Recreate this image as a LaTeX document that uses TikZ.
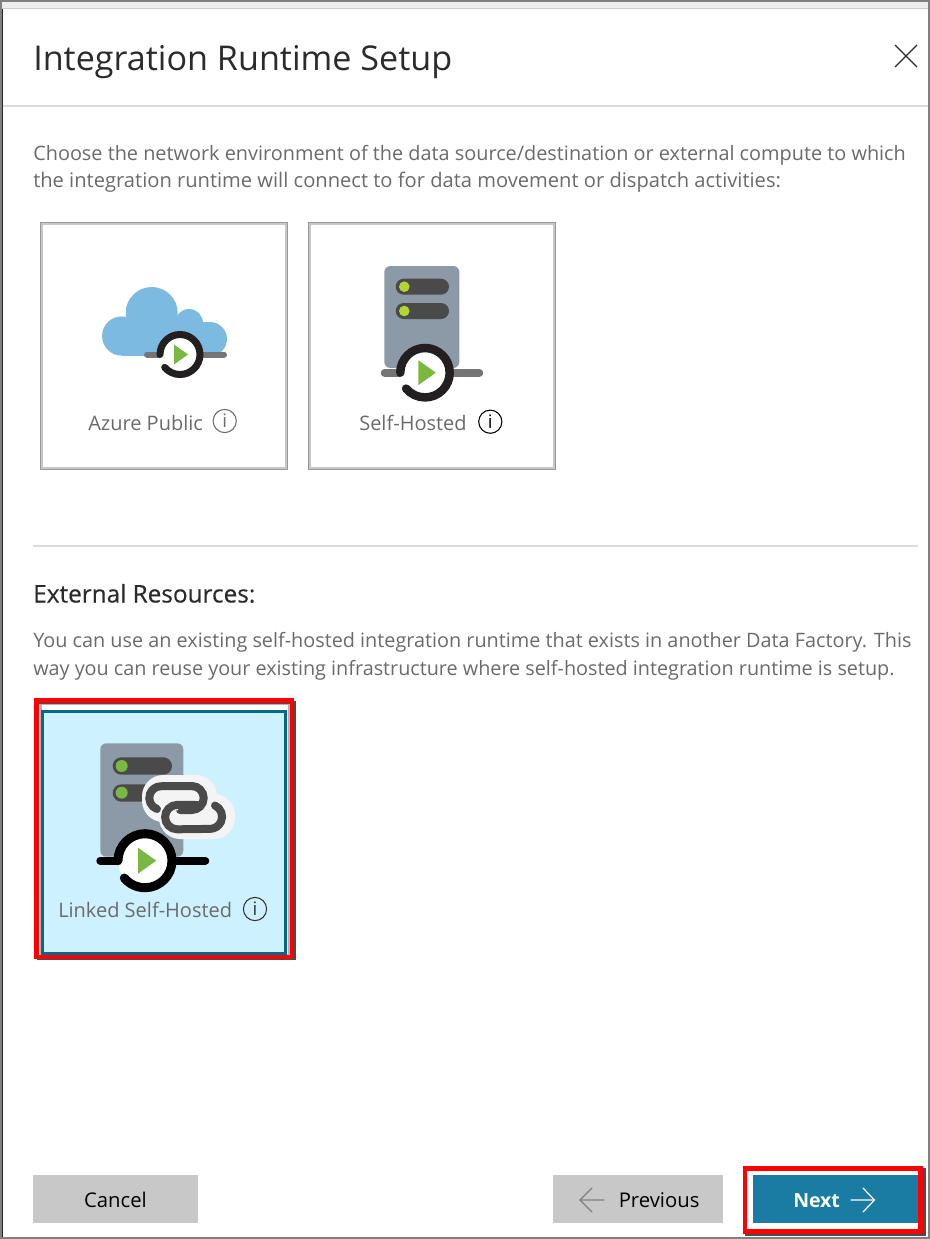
\documentclass[tikz,border=0pt]{standalone}
\usepackage{fontspec}
\setmainfont{Open Sans}
\newfontfamily\semifont[FakeBold=0.35]{Open Sans}
\usetikzlibrary{arrows.meta}
\definecolor{ring}{HTML}{231F20}
\definecolor{playg}{HTML}{7AB842}
\definecolor{srv}{HTML}{8C9AA8}
\definecolor{slot}{HTML}{4A4A4A}
\definecolor{lime}{HTML}{B4D334}
\definecolor{barg}{HTML}{757575}
\definecolor{txtg}{HTML}{6B6B6B}
\definecolor{txtd}{HTML}{2B2B2B}
\definecolor{btng}{HTML}{C8C8C8}
\definecolor{teal}{HTML}{1B7CA3}
\definecolor{tealb}{HTML}{00698C}
\definecolor{sel}{HTML}{CDF1FF}
\definecolor{rulec}{HTML}{DCDCDC}
\definecolor{halo}{HTML}{F4F4F4}
\definecolor{cloudc}{HTML}{7CBAE2}
\newcommand{\fs}[1]{\fontsize{#1}{#1}\selectfont}
\tikzset{
  x=0.75pt,y=-0.75pt,
  lbl/.style={inner sep=0pt,anchor=base west,text=txtg,font=\fs{15}},
  para/.style={inner sep=0pt,anchor=base west,text=txtg,font=\fs{14.87}},
  redbox/.style={draw=red,line width=3.4pt},
  shadowbox/.style={draw=black!70,line width=1.5pt},
  infoc/.style={circle,draw,inner sep=0pt,minimum size=17.4pt,line width=0.8pt,font=\fs{14}},
  btn/.style={inner sep=0pt,anchor=base west,font=\fs{15.2}},
  linkst/.style={draw=slot,line width=6pt,line cap=round},
}
\newcommand{\runring}[7]{% x y radius stroke triback trihalf colour
  \fill[white] (#1,#2) circle[radius=#3];
  \draw[draw=#7,line cap=round,line width=#4*0.75pt] ({#1-#3},#2) arc[start angle=180,end angle=-140,radius=#3*0.75pt];
  \fill[playg] ({#1-#5},{#2-#6}) -- ({#1-#5},{#2+#6}) -- ({#1-#5+#6*1.4},#2) -- cycle;
}
\newcommand{\cardframe}[4]{%
  \draw[black!40,line width=0.75pt,fill=white] (#1,#2) rectangle (#3,#4);
  \draw[black!22,line width=1.4pt] ({#1+1.5},{#2+1.5}) rectangle ({#3-1.5},{#4-1.5});
}
\begin{document}
\begin{tikzpicture}
\useasboundingbox (0,0) rectangle (930,1239);
\fill[white] (0,0) rectangle (930,1239);
% window frame
\fill[black!7] (0,0) rectangle (930,8);
\fill[black!50] (0,0) rectangle (930,2);
\fill[black!20] (0,7.5) rectangle (930,9);
\fill[black!50] (0,0) rectangle (2,1239);
\fill[black!85] (2,9) rectangle (3,1239);
\fill[black!50] (928,0) rectangle (930,1239);
\fill[black!50] (0,1236.5) rectangle (930,1239);
% header
\node[inner sep=0pt,anchor=base west,text=txtd,font=\fs{25.6}] (title) at (33,70.5) {Integration Runtime Setup};
\coordinate (xa) at (895,45); \coordinate (xb) at (917,67);
\coordinate (xc) at (917,45); \coordinate (xd) at (895,67);
\draw[txtd,line width=0.9pt] (xa) -- (xb) (xc) -- (xd);
\fill[rulec] (3,105) rectangle (928,107);
% intro
\node[para,font=\fs{14.9}] (p1) at (33,160) {Choose the network environment of the data source/destination or external compute to which};
\node[para,font=\fs{15.1}] (p2) at (33,187) {the integration runtime will connect to for data movement or dispatch activities:};
% card 1
\cardframe{40.5}{222.5}{287.5}{469.5}
\fill[cloudc] (151.7,313) circle[radius=26];
\fill[cloudc] (121.7,336) circle[radius=19.6];
\fill[cloudc] (189,323) circle[radius=14];
\fill[cloudc] (210,339) circle[radius=17];
\fill[cloudc] (122,322) rectangle (210,356);
\draw[barg,line width=4.5pt,line cap=round] (147,354.5) -- (224,354.5);
\runring{180}{354.5}{20}{7}{6}{10}{ring}
\node[lbl] (az) at (88,430) {Azure Public};
\node[infoc,draw=txtg,text=txtg] (azi) at (224.7,421) {i};
% card 2
\cardframe{308.5}{222.5}{555.5}{469.5}
\fill[srv,rounded corners=4.5pt] (384.3,266) rectangle (459.3,368);
\fill[slot,rounded corners=6pt] (395.7,278.7) rectangle (449,294.7);
\fill[slot,rounded corners=6pt] (395.7,303) rectangle (449,319);
\fill[lime] (404.3,286.7) circle[radius=5.3] (404.3,311) circle[radius=5.3];
\draw[barg,line width=6pt,line cap=round] (384.7,372.7) -- (479.3,372.7);
\runring{425}{372.7}{24.7}{8.5}{6.7}{12.5}{ring}
\node[lbl] (sh) at (359,430) {Self-Hosted};
\node[infoc,draw=black,text=black] (shi) at (490.3,421.7) {i};
% divider
\fill[rulec] (33,544.5) rectangle (918,546.5);
% external
\node[inner sep=0pt,anchor=base west,text=txtd,font=\fs{18.25}\semifont] (ext) at (33,602.5) {External Resources:};
\node[para] (p3) at (33,647) {You can use an existing self-hosted integration runtime that exists in another Data Factory. This};
\node[para,font=\fs{14.84}] (p4) at (33,675) {way you can reuse your existing infrastructure where self-hosted integration runtime is setup.};
% linked card
\draw[black!30,line width=1.1pt] (41,704) rectangle (289,955);
\fill[sel] (41,710) rectangle (287,955);
\draw[tealb,line width=2.4pt] (42.5,711.5) rectangle (285.5,953.5);
\draw[shadowbox] (37,958.5) -- (294.5,958.5) -- (294.5,701);
\draw[black!70,line width=1pt] (39,703.5) -- (290.5,703.5) -- (290.5,955);
\draw[redbox] (36.3,700.5) rectangle (292,957);
\fill[srv,rounded corners=4.5pt] (100.3,743.3) rectangle (183.3,856.7);
\fill[slot,rounded corners=6.5pt] (112.7,757.3) rectangle (172,774.7);
\fill[slot,rounded corners=6.5pt] (112.7,784.3) rectangle (172,801.7);
\fill[playg] (121.7,766) circle[radius=6] (121.7,792.7) circle[radius=6];
% link icon
\fill[halo,rounded corners=16pt] (142,775) rectangle (217,822);
\fill[halo,rounded corners=16pt] (159,794) rectangle (235,839);
\draw[linkst] (157,809) arc[start angle=250,end angle=90,radius=8.8pt] -- (191.7,786) arc[start angle=90,end angle=-90,radius=9pt] -- (180,810);
\draw[halo,line width=8pt] (165,817) arc[start angle=180,end angle=90,radius=9.1pt];
\draw[linkst] (215,805.5) arc[start angle=65,end angle=-90,radius=9.2pt] -- (177.3,829.3) arc[start angle=270,end angle=90,radius=9.15pt] -- (198,805);
% play
\draw[black,line width=6pt,line cap=round] (100.3,860.7) -- (205.3,860.7);
\runring{145}{860.7}{27}{9}{7}{13}{black}
\node[lbl] (lk) at (58,917) {Linked Self-Hosted};
\node[infoc,draw=black!80,text=black!80] (lki) at (255,909) {i};
% buttons
\fill[btng] (33,1175) rectangle (198,1223);
\node[btn,anchor=base,text=black] (cancel) at (115.5,1207.5) {Cancel};
\fill[btng] (553,1175) rectangle (723,1223);
\coordinate (pa) at (604,1200); \coordinate (pb) at (580,1200);
\draw[black!50,line width=0.9pt,line cap=round] (592,1188) -- (pb) -- (592,1212) (pb) -- (pa);
\node[btn,text=black] (prev) at (618.5,1207.5) {Previous};
\fill[teal] (753.3,1175) rectangle (918.3,1222.7);
\draw[black!70,line width=1.6pt] (745,1235) -- (924.5,1235) -- (924.5,1168);
\draw[black!60,line width=1pt] (747,1170.5) -- (919.5,1170.5) -- (919.5,1227);
\draw[redbox] (745,1168.7) rectangle (920.7,1231.3);
\coordinate (na) at (851,1200); \coordinate (nb) at (874.5,1200);
\draw[white,line width=0.9pt,line cap=round] (863,1188) -- (nb) -- (863,1212) (nb) -- (na);
\node[btn,text=white,font=\fs{14.6}\bfseries] (next) at (793,1207.5) {Next};
\end{tikzpicture}
\end{document}
